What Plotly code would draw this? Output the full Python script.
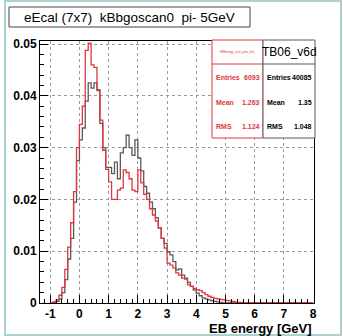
import plotly.graph_objects as go

# bin lower edges: -1.0 .. 7.9 step 0.1
bin_start = -1.0
bin_width = 0.1
red_vals = [
    0.0, 0.0002, 0.0006, 0.0015, 0.0030, 0.0065, 0.0108, 0.0155, 0.0215, 0.0300,
    0.0345, 0.0380, 0.0488, 0.0502, 0.0460, 0.0455, 0.0410, 0.0353, 0.0295, 0.0258,
    0.0234, 0.0200, 0.0200, 0.0218, 0.0222, 0.0257, 0.0252, 0.0240, 0.0218, 0.0215,
    0.0257, 0.0232, 0.0210, 0.0200, 0.0182, 0.0170, 0.0158, 0.0145, 0.0125, 0.0106,
    0.0077, 0.0073, 0.0068, 0.0058, 0.0054, 0.0048, 0.0046, 0.0035, 0.0032, 0.0028,
    0.0026, 0.0024, 0.0020, 0.0016, 0.0013, 0.0011, 0.0009, 0.0008, 0.0007, 0.0006,
    0.0005, 0.0004, 0.0003, 0.0002, 0.0001, 0.0001, 0.0, 0.0, 0.0, 0.0,
    0.0, 0.0, 0.0, 0.0, 0.0, 0.0, 0.0, 0.0, 0.0, 0.0,
    0.0, 0.0, 0.0, 0.0, 0.0, 0.0, 0.0, 0.0, 0.0, 0.0,
]
black_vals = [
    0.0, 0.0001, 0.0003, 0.0008, 0.0020, 0.0045, 0.0085, 0.0125, 0.0195, 0.0275,
    0.0315, 0.0338, 0.0390, 0.0425, 0.0415, 0.0425, 0.0412, 0.0347, 0.0300, 0.0262,
    0.0262, 0.0250, 0.0272, 0.0240, 0.0290, 0.0300, 0.0324, 0.0300, 0.0285, 0.0315,
    0.0280, 0.0255, 0.0225, 0.0212, 0.0195, 0.0182, 0.0165, 0.0145, 0.0125, 0.0115,
    0.0099, 0.0093, 0.0080, 0.0064, 0.0066, 0.0054, 0.0048, 0.0040, 0.0032, 0.0025,
    0.0019, 0.0014, 0.0010, 0.0008, 0.0006, 0.0004, 0.0003, 0.0002, 0.0001, 0.0,
    0.0, 0.0, 0.0, 0.0, 0.0, 0.0, 0.0, 0.0, 0.0, 0.0,
    0.0, 0.0, 0.0, 0.0, 0.0, 0.0, 0.0, 0.0, 0.0, 0.0,
    0.0, 0.0, 0.0, 0.0, 0.0, 0.0, 0.0, 0.0, 0.0, 0.0,
]
x_ticks = [-1, 0, 1, 2, 3, 4, 5, 6, 7, 8]
y_ticks = [0, 0.01, 0.02, 0.03, 0.04, 0.05]
y_ticktext = ["0", "0.01", "0.02", "0.03", "0.04", "0.05"]

title_text = "eEcal (7x7)  kBbgoscan0  pi- 5GeV"
red_stats = [("Entries", "6093"), ("Mean", "1.263"), ("RMS", "1.124")]
black_stats = [("Entries", "40085"), ("Mean", "1.35"), ("RMS", "1.048")]

W, H = 343, 336
L, R, T, B = 40, 314, 41, 303
RED = "#e2343e"
GRAY = "#5a5a5a"
FONT = "Liberation Sans"


def edges_and_steps(vals):
    xs = [round(bin_start + i * bin_width, 3) for i in range(len(vals) + 1)]
    ys = list(vals) + [vals[-1]]
    return xs, ys


def px(x):
    return (x - L) / (R - L)


def py(y):
    return (B - y) / (B - T)


fig = go.Figure()
for vals, col in [(black_vals, GRAY), (red_vals, RED)]:
    xs, ys = edges_and_steps(vals)
    fig.add_trace(go.Scatter(x=xs, y=ys, mode="lines", line=dict(color=col, width=1.3, shape="hv"),
                             hoverinfo="skip", showlegend=False))

axis_common = dict(showline=True, linecolor="black", linewidth=1, mirror=True,
                   ticks="inside", tickcolor="black", ticklen=8,
                   showgrid=True, gridcolor="#9a9a9a", griddash="dot", gridwidth=1,
                   zeroline=False,
                   tickfont=dict(family=FONT, size=12, color="black"))

fig.update_xaxes(range=[-1.35, 8.03], tickvals=x_ticks, ticktext=["<b>%d</b>" % v for v in x_ticks],
                 minor=dict(dtick=0.2, ticklen=4, ticks="inside", tickcolor="black", showgrid=False),
                 **axis_common)
fig.update_yaxes(range=[0, 0.0506], tickvals=y_ticks, ticktext=["<b>%s</b>" % t for t in y_ticktext],
                 minor=dict(dtick=0.002, ticklen=4, ticks="inside", tickcolor="black", showgrid=False),
                 **axis_common)

shapes = []
annotations = []


def box(x0, y0, x1, y1, color, fill="white"):
    shapes.append(dict(type="rect", xref="paper", yref="paper",
                       x0=px(x0), x1=px(x1), y0=py(y1), y1=py(y0),
                       line=dict(color=color, width=1), fillcolor=fill, layer="above"))


def line(x0, y0, x1, y1, color):
    shapes.append(dict(type="line", xref="paper", yref="paper",
                       x0=px(x0), x1=px(x1), y0=py(y0), y1=py(y1),
                       line=dict(color=color, width=1), layer="above"))


def text(x, y, s, color="black", size=9, xanchor="left", bold=True):
    annotations.append(dict(xref="paper", yref="paper", x=px(x), y=py(y),
                            text=("<b>%s</b>" % s) if bold else s,
                            showarrow=False, xanchor=xanchor, yanchor="middle",
                            font=dict(family=FONT, size=size, color=color)))


# outer canvas border
shapes.append(dict(type="rect", xref="paper", yref="paper", x0=px(5), x1=px(341), y0=py(335), y1=py(1),
                   line=dict(color="#8fc3c3", width=1.5), fillcolor="rgba(0,0,0,0)", layer="below"))

# title box
box(9, 7, 250, 27, "#444444")
text(129.5, 17.5, title_text, size=13.5, xanchor="center", bold=False)

# stats boxes
box(212, 40, 263, 138, RED)
line(212, 64, 263, 64, RED)
box(263, 40, 315, 138, GRAY)
line(263, 64, 315, 64, GRAY)
text(237.5, 52, "EBEnergy_ecal_pion_hist", color=RED, size=3, xanchor="center", bold=False)
text(289, 52, "TB06_v6d", color="black", size=12, xanchor="center", bold=False)
rows_y = [77, 102, 126]
for (lab, v), yy in zip(red_stats, rows_y):
    text(214, yy, lab, color=RED, size=7)
    text(261.5, yy, v, color=RED, size=7, xanchor="right")
for (lab, v), yy in zip(black_stats, rows_y):
    text(264.5, yy, lab, color="black", size=7)
    text(313.5, yy, v, color="black", size=7, xanchor="right")

# x axis title
text(314, 328, "EB energy [GeV]", color="black", size=13, xanchor="right")

fig.update_layout(width=W, height=H, margin=dict(l=L, r=W - R, t=T, b=H - B),
                  paper_bgcolor="white", plot_bgcolor="white",
                  shapes=shapes, annotations=annotations, showlegend=False)

fig.write_html("out.html", config={"displayModeBar": False})
